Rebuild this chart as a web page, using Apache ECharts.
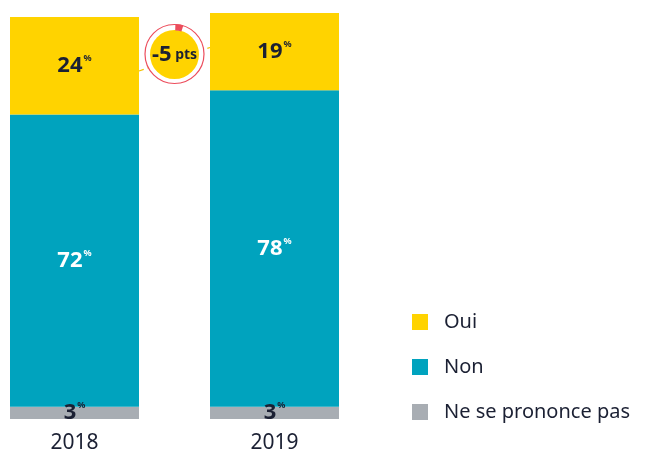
<!DOCTYPE html>
<html>
<head>
<meta charset="utf-8">
<script src="https://cdn.jsdelivr.net/npm/echarts@6/dist/echarts.min.js"></script>
<style>
  html, body { margin: 0; padding: 0; background: #ffffff; }
  #chart { width: 651px; height: 450px; }
</style>
</head>
<body>
<div id="chart"></div>
<script>
// Survey answers by year (percent)
const years = ['2018', '2019'];
const oui = [24, 19];
const non = [72, 78];
const nsp = [3, 3];
const seriesNames = ['Oui', 'Non', 'Ne se prononce pas'];

const FONT = '"Noto Sans", "Open Sans", sans-serif';
const INK = '#1b2033';
const YELLOW = '#FFD300';
const TEAL = '#00A3BE';
const GREY = '#A8ADB3';
const BAR_W = 129;

function pctLabel(color) {
  return {
    show: true,
    position: 'inside',
    formatter: p => '{n|' + p.value + '}{p|%}',
    rich: {
      n: { fontFamily: FONT, fontSize: 22, fontWeight: 'bold', color: color, lineHeight: 24 },
      p: { fontFamily: FONT, fontSize: 9, fontWeight: 'bold', color: color, verticalAlign: 'top', lineHeight: 24, padding: [0, 0, 6, 1] }
    }
  };
}

const chart = echarts.init(document.getElementById('chart'), null, { renderer: 'canvas' });

// Bars sit on the ends of the category axis (boundaryGap off), so the grid spans bar centre to bar centre
chart.setOption({
  animation: false,
  backgroundColor: '#ffffff',
  grid: { left: 74.5, width: 200, top: 13, bottom: 31, containLabel: false, outerBoundsMode: 'none' },
  xAxis: {
    type: 'category',
    data: years,
    boundaryGap: false,
    axisLine: { show: false },
    axisTick: { show: false },
    axisLabel: { fontFamily: FONT, fontSize: 21, color: INK, margin: 14, lineHeight: 21 }
  },
  yAxis: { type: 'value', min: 0, max: 100, show: false },
  legend: {
    data: [seriesNames[0], seriesNames[1], seriesNames[2]],
    orient: 'vertical',
    left: 412,
    top: 312,
    padding: 0,
    itemWidth: 16,
    itemHeight: 16,
    itemGap: 25,
    icon: 'rect',
    selectedMode: false,
    textStyle: { fontFamily: FONT, fontSize: 20, color: INK, lineHeight: 20, padding: [0, 0, 0, 11] }
  },
  series: [
    { name: seriesNames[2], type: 'bar', stack: 'total', data: nsp, barWidth: BAR_W, clip: false,
      itemStyle: { color: GREY }, label: pctLabel(INK) },
    { name: seriesNames[1], type: 'bar', stack: 'total', data: non, barWidth: BAR_W, clip: false,
      itemStyle: { color: TEAL }, label: pctLabel('#ffffff') },
    { name: seriesNames[0], type: 'bar', stack: 'total', data: oui, barWidth: BAR_W, clip: false,
      itemStyle: { color: YELLOW }, label: pctLabel(INK) }
  ]
});

// Change badge between the two "Oui" segments
const x1 = chart.convertToPixel({ xAxisIndex: 0 }, years[0]);
const x2 = chart.convertToPixel({ xAxisIndex: 0 }, years[1]);
const cx = (x1 + x2) / 2;
const cy = 54;
const delta = oui[1] - oui[0];
const edgeL = x1 + BAR_W / 2;
const edgeR = x2 - BAR_W / 2;

chart.setOption({
  graphic: [
    { type: 'line', z: 10, shape: { x1: edgeL, y1: 71, x2: edgeR, y2: 47.5 },
      style: { stroke: '#F2C200', lineWidth: 1.2, lineDash: [5, 4] } },
    { type: 'circle', z: 11, shape: { cx: cx, cy: cy, r: 29.5 },
      style: { fill: '#ffffff', stroke: '#EC4D5C', lineWidth: 1.2 } },
    { type: 'circle', z: 12, shape: { cx: cx, cy: cy + 0.5, r: 24.5 },
      style: { fill: YELLOW } },
    { type: 'sector', z: 12, shape: { cx: cx, cy: cy, r0: 23.5, r: 30, startAngle: -Math.PI / 2 + 0.03, endAngle: -Math.PI / 2 + 0.3 },
      style: { fill: '#EC4D5C' } },
    { type: 'text', z: 13, x: cx, y: cy + 1,
      style: {
        text: '{a|' + (delta > 0 ? '+' : '') + delta + '}{b| pts}',
        align: 'center', verticalAlign: 'middle',
        rich: {
          a: { fontFamily: FONT, fontSize: 22, fontWeight: 'bold', fill: INK, color: INK },
          b: { fontFamily: FONT, fontSize: 14, fontWeight: 'bold', fill: INK, color: INK }
        }
      } }
  ]
});
</script>
</body>
</html>
